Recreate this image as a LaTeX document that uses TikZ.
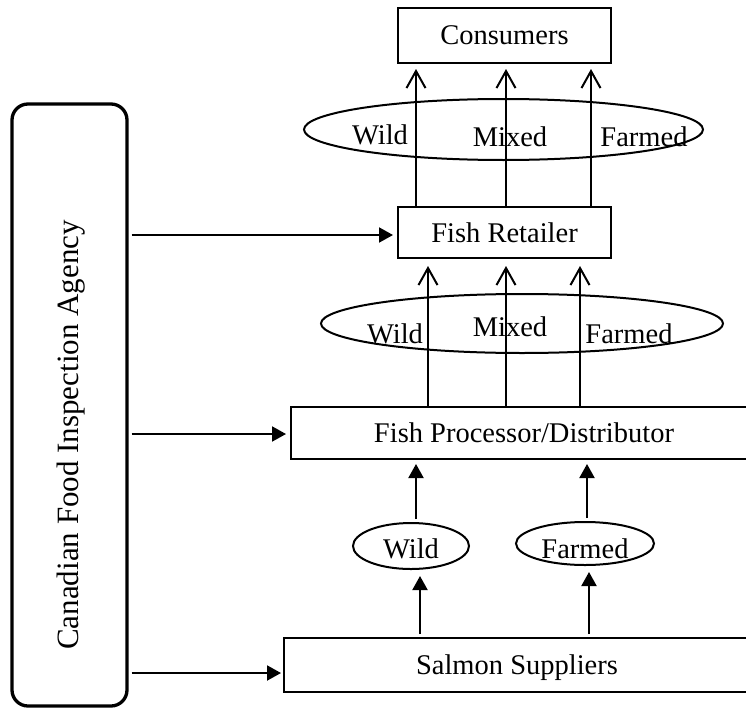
\documentclass[tikz,border=0pt]{standalone}
\usepackage{fontspec}
\setmainfont{Liberation Serif}
\usetikzlibrary{arrows.meta,shapes.geometric}
\begin{document}
\begin{tikzpicture}[x=1pt,y=-1pt,
 box/.style={draw,line width=2pt,rectangle,inner sep=0pt,text height=19pt,text depth=0pt,font=\fontsize{28.5}{34}\selectfont},
 oval/.style={draw,line width=2pt,ellipse,inner sep=0pt},
 lab/.style={anchor=base,inner sep=0pt,font=\fontsize{28.5}{34}\selectfont},
 openarr/.style={line width=2pt,-{Straight Barb[length=17pt,width=19pt,line width=2pt]}},
 filarr/.style={line width=2pt,-{Triangle[length=14pt,width=15pt]}},
]
\path[fill=white,use as bounding box] (0,0) rectangle (746,709);

% boxes
\node[box,minimum width=213pt,minimum height=55pt] (cons) at (504.5,35.5) {Consumers};
\node[box,minimum width=213pt,minimum height=51pt] (ret) at (504.5,232.5) {Fish Retailer};
\node[box,minimum width=466pt,minimum height=52pt] (proc) at (524,433) {Fish Processor/Distributor};
\node[box,minimum width=466pt,minimum height=54pt] (sal) at (517,665) {Salmon Suppliers};
\node[draw,line width=3.3pt,rounded corners=16pt,minimum width=115pt,minimum height=602pt,inner sep=0pt] (cfia) at (69.5,405) {};
\node[rotate=90,anchor=base,inner sep=0pt,font=\fontsize{31}{36}\selectfont] (cfialab) at (78,435) {Canadian Food Inspection Agency};

% ellipses
\node[oval,minimum width=399pt,minimum height=61pt] (e1) at (503.5,129.5) {};
\node[oval,minimum width=402pt,minimum height=59pt] (e2) at (522,323.5) {};
\node[oval,minimum width=116pt,minimum height=46pt] (ew) at (411,546) {};
\node[oval,minimum width=138pt,minimum height=43pt] (ef) at (585,543.5) {};

% labels
\node[lab] (t1) at (380,144) {Wild};
\node[lab] (t2) at (510,146) {Mixed};
\node[lab] (t3) at (644,146) {Farmed};
\node[lab] (m1) at (395,343) {Wild};
\node[lab] (m2) at (510,336) {Mixed};
\node[lab] (m3) at (629,343) {Farmed};
\node[lab] (bw) at (411,558) {Wild};
\node[lab] (bf) at (585,558) {Farmed};

% columns
\coordinate (a1) at (416,0);
\coordinate (a2) at (506,0);
\coordinate (a3) at (591,0);
\coordinate (b1) at (428,0);
\coordinate (b2) at (506,0);
\coordinate (b3) at (580,0);
\coordinate (c1) at (416,0);
\coordinate (c2) at (587,0);
\coordinate (d1) at (420,0);
\coordinate (d2) at (589,0);
\coordinate (yr) at (0,235);
\coordinate (yp) at (0,434);
\coordinate (ys) at (0,673);

% connectors
\draw[openarr,shorten >=5pt] (ret.north -| a1) -- (cons.south -| a1);
\draw[openarr,shorten >=5pt] (ret.north -| a2) -- (cons.south -| a2);
\draw[openarr,shorten >=5pt] (ret.north -| a3) -- (cons.south -| a3);
\draw[openarr,shorten >=7pt] (proc.north -| b1) -- (ret.south -| b1);
\draw[openarr,shorten >=7pt] (proc.north -| b2) -- (ret.south -| b2);
\draw[openarr,shorten >=7pt] (proc.north -| b3) -- (ret.south -| b3);
\draw[filarr,shorten >=4pt,shorten <=3pt] (ew.north -| c1) -- (proc.south -| c1);
\draw[filarr,shorten >=4pt,shorten <=3pt] (ef.north -| c2) -- (proc.south -| c2);
\draw[filarr,shorten >=6pt,shorten <=3pt] (sal.north -| d1) -- (ew.south -| d1);
\draw[filarr,shorten >=6pt,shorten <=3pt] (sal.north -| d2) -- (ef.south -| d2);
\draw[filarr,shorten <=3pt,shorten >=4pt] (cfia.east |- yr) -- (ret.west |- yr);
\draw[filarr,shorten <=3pt,shorten >=4pt] (cfia.east |- yp) -- (proc.west |- yp);
\draw[filarr,shorten <=3pt,shorten >=2pt] (cfia.east |- ys) -- (sal.west |- ys);
\end{tikzpicture}
\end{document}
